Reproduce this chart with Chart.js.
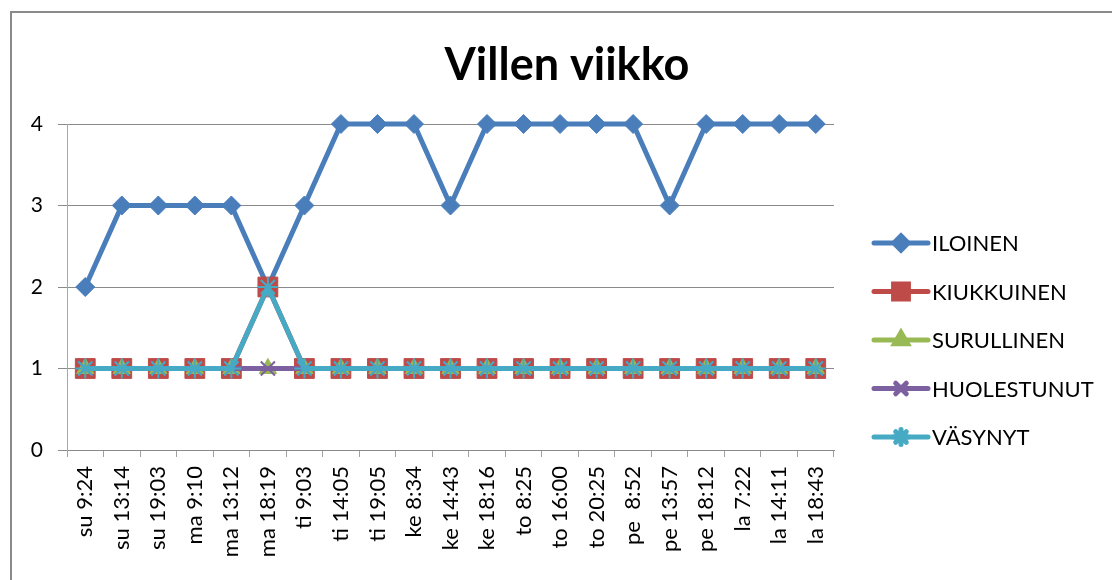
<!DOCTYPE html>
<html>
<head>
<meta charset="utf-8">
<script src="https://cdn.jsdelivr.net/npm/chart.js@4/dist/chart.umd.min.js"></script>
<style>
    html, body { margin: 0; padding: 0; background: #fff; overflow: hidden; width: 1112px; height: 580px; }
    #frame { position: absolute; left: 10px; top: 11px; width: 1200px; height: 700px; border: 2px solid #8a8a8a; box-sizing: border-box; }
    #wrap { position: absolute; left: 0; top: 0; }
</style>
</head>
<body>
<div id="frame"></div>
<div id="wrap"><canvas id="moodChart" width="1134" height="580"></canvas></div>
<script>
const labels = ['su 9:24', 'su 13:14', 'su 19:03', 'ma 9:10', 'ma 13:12', 'ma 18:19', 'ti 9:03',
    'ti 14:05', 'ti 19:05', 'ke 8:34', 'ke 14:43', 'ke 18:16', 'to 8:25', 'to 16:00', 'to 20:25',
    'pe  8:52', 'pe 13:57', 'pe 18:12', 'la 7:22', 'la 14:11', 'la 18:43'];

const iloinen     = [2, 3, 3, 3, 3, 2, 3, 4, 4, 4, 3, 4, 4, 4, 4, 4, 3, 4, 4, 4, 4];
const kiukkuinen  = [1, 1, 1, 1, 1, 2, 1, 1, 1, 1, 1, 1, 1, 1, 1, 1, 1, 1, 1, 1, 1];
const surullinen  = [1, 1, 1, 1, 1, 1, 1, 1, 1, 1, 1, 1, 1, 1, 1, 1, 1, 1, 1, 1, 1];
const huolestunut = [1, 1, 1, 1, 1, 1, 1, 1, 1, 1, 1, 1, 1, 1, 1, 1, 1, 1, 1, 1, 1];
const vasynyt     = [1, 1, 1, 1, 1, 2, 1, 1, 1, 1, 1, 1, 1, 1, 1, 1, 1, 1, 1, 1, 1];

const yTicks = [0, 1, 2, 3, 4];

const FONT = 'Lato, "Open Sans", sans-serif';

function series(label, data, color, style, radius, order, pbw) {
    return {
        label: label,
        data: data,
        borderColor: color,
        backgroundColor: color,
        borderWidth: 5,
        pointStyle: style,
        pointRadius: radius,
        pointHoverRadius: radius,
        pointBackgroundColor: color,
        pointBorderColor: color,
        pointBorderWidth: pbw,
        tension: 0,
        clip: false,
        order: order
    };
}

// legend drawn as line + marker, like the original
const lineLegend = {
    id: 'lineLegend',
    afterDraw(chart) {
        const ctx = chart.ctx;
        const x0 = chart.chartArea.right + 40;
        let y = 243;
        ctx.save();
        chart.data.datasets.forEach(ds => {
            ctx.strokeStyle = ds.borderColor;
            ctx.lineWidth = 5;
            ctx.lineCap = 'round';
            ctx.beginPath();
            ctx.moveTo(x0, y);
            ctx.lineTo(x0 + 54, y);
            ctx.stroke();
            ctx.fillStyle = ds.pointBackgroundColor;
            ctx.strokeStyle = ds.pointBorderColor;
            Chart.helpers.drawPoint(ctx, {
                pointStyle: ds.pointStyle,
                radius: ds.pointRadius * 0.75,
                rotation: 0,
                borderWidth: ds.pointBorderWidth
            }, x0 + 27, y);
            ctx.fillStyle = '#000';
            ctx.font = '22px ' + FONT;
            ctx.textBaseline = 'middle';
            ctx.textAlign = 'left';
            ctx.fillText(ds.label, x0 + 58, y + 1);
            y += 48.5;
        });
        ctx.restore();
    }
};

new Chart(document.getElementById('moodChart'), {
    type: 'line',
    data: {
        labels: labels,
        datasets: [
            series('ILOINEN', iloinen, '#4A7EBB', 'rectRot', 9.5, 5, 1),
            series('KIUKKUINEN', kiukkuinen, '#BE4B48', 'rect', 14, 4, 1),
            series('SURULLINEN', surullinen, '#98B954', 'triangle', 10, 3, 1),
            series('HUOLESTUNUT', huolestunut, '#7D60A0', 'crossRot', 10, 2, 2),
            series('VÄSYNYT', vasynyt, '#46AAC5', 'star', 10, 1, 2)
        ]
    },
    options: {
        responsive: false,
        animation: false,
        events: [],
        layout: { padding: 0 },
        plugins: {
            legend: { display: false },
            tooltip: { enabled: false },
            title: {
                display: true,
                text: 'Villen viikko',
                color: '#000',
                font: { family: FONT, size: 45, weight: 'bold', lineHeight: 1.2 },
                padding: { top: 38, bottom: 32 }
            }
        },
        scales: {
            x: {
                offset: true,
                afterFit: s => { s.height = 130; },
                grid: { offset: true, drawOnChartArea: false, drawTicks: true, tickLength: 7, color: '#a0a0a0' },
                border: { color: '#8a8a8a', width: 1 },
                ticks: {
                    autoSkip: false,
                    minRotation: 90,
                    maxRotation: 90,
                    padding: 9,
                    color: '#000',
                    font: { family: FONT, size: 22 }
                }
            },
            y: {
                min: 0,
                max: 4,
                afterFit: s => { s.width = 67; },
                afterBuildTicks: s => { s.ticks = yTicks.map(v => ({ value: v })); },
                grid: { color: '#8a8a8a', tickLength: 9 },
                border: { color: '#a8a8a8', width: 1 },
                ticks: {
                    padding: 15,
                    color: '#000',
                    font: { family: FONT, size: 21 }
                }
            },
            // empty right axis that only keeps room for the legend
            side: {
                position: 'right',
                afterFit: s => { s.width = 300; },
                grid: { display: false },
                border: { display: false },
                ticks: { display: false }
            }
        }
    },
    plugins: [lineLegend]
});
</script>
</body>
</html>
